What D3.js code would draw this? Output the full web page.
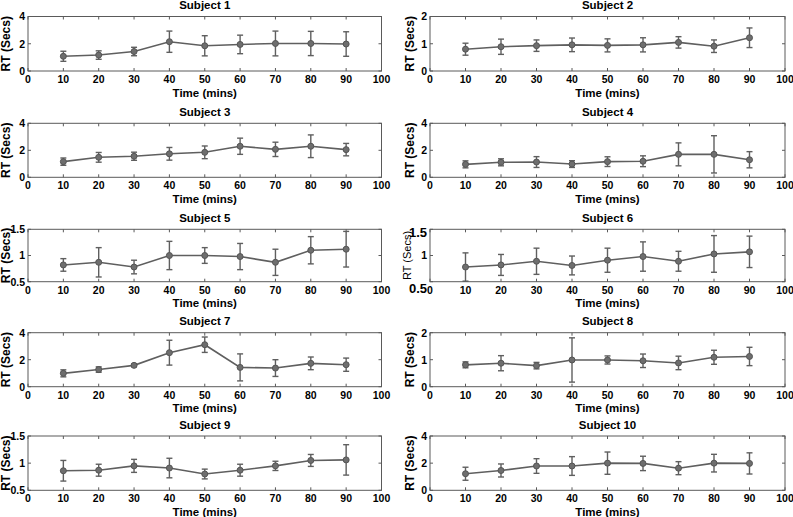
<!DOCTYPE html>
<html>
<head>
<meta charset="utf-8">
<script src="https://cdn.jsdelivr.net/npm/d3@7"></script>
<style>
  body { margin: 0; background: #fff; }
  svg { display: block; font-family: "Liberation Sans", Arial, sans-serif; }
</style>
</head>
<body>
<svg id="chart" width="793" height="517"></svg>
<script>
// ---------------- DATA ----------------
const times = [10, 20, 30, 40, 50, 60, 70, 80, 90];
const xTicks = [0, 10, 20, 30, 40, 50, 60, 70, 80, 90, 100];
const subjects = ["Subject 1", "Subject 2", "Subject 3", "Subject 4", "Subject 5",
                  "Subject 6", "Subject 7", "Subject 8", "Subject 9", "Subject 10"];

const mean1 = [1.08, 1.17, 1.43, 2.15, 1.85, 1.95, 2.02, 2.02, 1.98];
const err1  = [0.37, 0.31, 0.31, 0.78, 0.74, 0.68, 0.91, 0.89, 0.90];
const mean2 = [0.80, 0.89, 0.93, 0.96, 0.94, 0.96, 1.05, 0.91, 1.22];
const err2  = [0.22, 0.28, 0.21, 0.25, 0.24, 0.26, 0.21, 0.23, 0.36];
const mean3 = [1.16, 1.48, 1.56, 1.74, 1.85, 2.30, 2.07, 2.30, 2.05];
const err3  = [0.27, 0.36, 0.30, 0.47, 0.47, 0.60, 0.53, 0.84, 0.46];
const mean4 = [0.96, 1.11, 1.13, 0.98, 1.16, 1.19, 1.70, 1.70, 1.30];
const err4  = [0.26, 0.26, 0.40, 0.25, 0.36, 0.40, 0.85, 1.38, 0.60];
const mean5 = [0.82, 0.87, 0.78, 1.00, 1.00, 0.98, 0.87, 1.10, 1.12];
const err5  = [0.12, 0.28, 0.13, 0.27, 0.15, 0.25, 0.25, 0.26, 0.34];
const mean6 = [0.78, 0.82, 0.89, 0.81, 0.91, 0.98, 0.89, 1.03, 1.07];
const err6  = [0.27, 0.20, 0.25, 0.18, 0.23, 0.28, 0.19, 0.35, 0.30];
const mean7 = [0.99, 1.27, 1.58, 2.52, 3.11, 1.43, 1.38, 1.73, 1.63];
const err7  = [0.26, 0.20, 0.10, 0.92, 0.57, 1.00, 0.62, 0.47, 0.49];
const mean8 = [0.81, 0.87, 0.78, 0.99, 0.99, 0.96, 0.88, 1.09, 1.12];
const err8  = [0.11, 0.28, 0.12, 0.82, 0.15, 0.25, 0.25, 0.26, 0.34];
const mean9 = [0.86, 0.87, 0.95, 0.91, 0.80, 0.87, 0.95, 1.05, 1.06];
const err9  = [0.19, 0.11, 0.12, 0.18, 0.09, 0.11, 0.085, 0.11, 0.28];
const mean10 = [1.22, 1.46, 1.79, 1.79, 2.00, 1.98, 1.63, 2.00, 1.98];
const err10  = [0.48, 0.48, 0.54, 0.69, 0.82, 0.53, 0.48, 0.65, 0.78];

const means = [mean1, mean2, mean3, mean4, mean5, mean6, mean7, mean8, mean9, mean10];
const errs  = [err1, err2, err3, err4, err5, err6, err7, err8, err9, err10];
const yDomains = [[0, 4], [0, 2], [0, 4], [0, 4], [0.5, 1.5],
                  [0.5, 1.5], [0, 4], [0, 2], [0.5, 1.5], [0, 4]];
const yTickVals = [[0, 2, 4], [0, 1, 2], [0, 2, 4], [0, 2, 4], [0.5, 1, 1.5],
                   [0.5, 1, 1.5], [0, 2, 4], [0, 1, 2], [0.5, 1, 1.5], [0, 2, 4]];

// ---------------- LAYOUT ----------------
const colX = [[28, 381.5], [430, 785]];
const rowY = [[16.5, 71], [123.3, 177.3], [229.3, 281.7], [332.7, 386.7], [436, 490.3]];
const axisColor = "#5a5a5a";
const lineColor = "#5f5f5f";

const svg = d3.select("#chart");

subjects.forEach((name, i) => {
  const col = i % 2, row = Math.floor(i / 2);
  const [x0, x1] = colX[col];
  const [y0, y1] = rowY[row];
  const x = d3.scaleLinear().domain([0, 100]).range([x0, x1]);
  const y = d3.scaleLinear().domain(yDomains[i]).range([y1, y0]);
  const g = svg.append("g");
  const odd = (i === 5);

  // box
  g.append("rect").attr("x", x0).attr("y", y0).attr("width", x1 - x0).attr("height", y1 - y0)
    .attr("fill", "none").attr("stroke", axisColor).attr("stroke-width", 1);

  // ticks (inward, all four sides)
  const tl = 3;
  xTicks.forEach(t => {
    g.append("line").attr("x1", x(t)).attr("x2", x(t)).attr("y1", y1).attr("y2", y1 - tl)
      .attr("stroke", axisColor);
    g.append("line").attr("x1", x(t)).attr("x2", x(t)).attr("y1", y0).attr("y2", y0 + tl)
      .attr("stroke", axisColor);
  });
  yTickVals[i].forEach(t => {
    g.append("line").attr("x1", x0).attr("x2", x0 + tl).attr("y1", y(t)).attr("y2", y(t))
      .attr("stroke", axisColor);
    g.append("line").attr("x1", x1).attr("x2", x1 - tl).attr("y1", y(t)).attr("y2", y(t))
      .attr("stroke", axisColor);
  });

  // x tick labels
  g.selectAll(".xl").data(xTicks).enter().append("text")
    .attr("x", d => x(d)).attr("y", y1 + 12)
    .attr("text-anchor", "middle").attr("font-size", 10.5).attr("font-weight", "bold")
    .text(d => d);

  // y tick labels
  g.selectAll(".yl").data(yTickVals[i]).enter().append("text")
    .attr("x", x0 - 3)
    .attr("y", (d, k) => {
      if (odd && k === 0) return y(d) + 11;
      if (odd && k === 2) return y(d) + 8;
      return y(d) + 3.8;
    })
    .attr("text-anchor", "end")
    .attr("font-size", (d, k) => (odd && k !== 1) ? 13 : 10.5)
    .attr("font-weight", "bold")
    .text(d => d3.format("~g")(d));

  // title
  g.append("text").attr("x", (x0 + x1) / 2).attr("y", y0 - 7.5)
    .attr("text-anchor", "middle").attr("font-size", 11.5).attr("font-weight", "bold")
    .text(name);

  // x label
  g.append("text").attr("x", (x0 + x1) / 2).attr("y", y1 + 25.5)
    .attr("text-anchor", "middle").attr("font-size", 11.5).attr("font-weight", "bold")
    .text("Time (mins)");

  // y label
  const lx = col === 0 ? 10 : (odd ? 411 : 414);
  g.append("text")
    .attr("transform", `translate(${lx},${(y0 + y1) / 2}) rotate(-90)`)
    .attr("text-anchor", "middle")
    .attr("font-size", odd ? 11 : 12)
    .attr("font-weight", odd ? "normal" : "bold")
    .text("RT (Secs)");

  // data
  const pts = times.map((t, k) => ({t, m: means[i][k], e: errs[i][k]}));
  const line = d3.line().x(d => x(d.t)).y(d => y(d.m));
  g.append("path").datum(pts).attr("d", line)
    .attr("fill", "none").attr("stroke", lineColor).attr("stroke-width", 1.6);

  const cap = 3;
  const eb = g.selectAll(".eb").data(pts).enter().append("g");
  eb.append("line").attr("x1", d => x(d.t)).attr("x2", d => x(d.t))
    .attr("y1", d => y(d.m - d.e)).attr("y2", d => y(d.m + d.e))
    .attr("stroke", lineColor).attr("stroke-width", 1.4);
  eb.append("line").attr("x1", d => x(d.t) - cap).attr("x2", d => x(d.t) + cap)
    .attr("y1", d => y(d.m + d.e)).attr("y2", d => y(d.m + d.e))
    .attr("stroke", lineColor).attr("stroke-width", 1.4);
  eb.append("line").attr("x1", d => x(d.t) - cap).attr("x2", d => x(d.t) + cap)
    .attr("y1", d => y(d.m - d.e)).attr("y2", d => y(d.m - d.e))
    .attr("stroke", lineColor).attr("stroke-width", 1.4);
  eb.append("circle").attr("cx", d => x(d.t)).attr("cy", d => y(d.m)).attr("r", 3)
    .attr("fill", "#6e6e6e").attr("stroke", "#555").attr("stroke-width", 1);
});
</script>
</body>
</html>
